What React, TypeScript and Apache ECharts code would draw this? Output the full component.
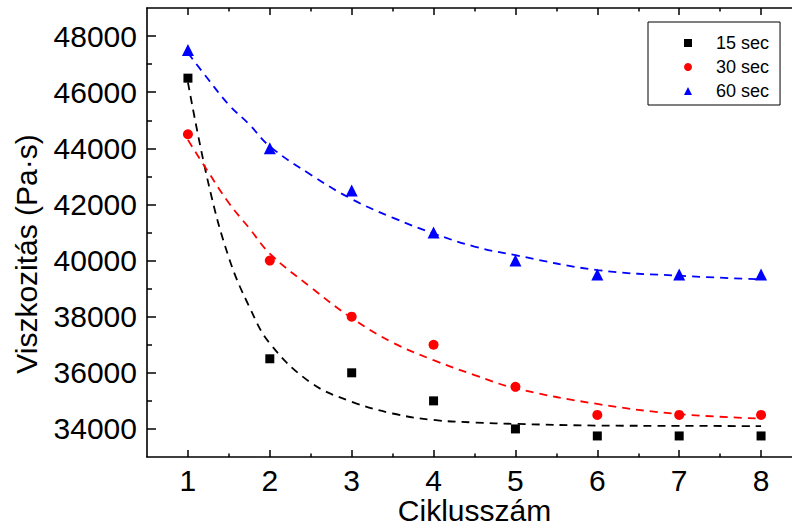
import React, { useEffect, useRef } from "react";
import * as echarts from "echarts";

// measured points
const cycles = [1, 2, 3, 4, 5, 6, 7, 8];
const visc15 = [46500, 36500, 36000, 35000, 34000, 33750, 33750, 33750];
const visc30 = [44500, 40000, 38000, 37000, 35500, 34500, 34500, 34500];
const visc60 = [47500, 44000, 42500, 41000, 40000, 39500, 39500, 39500];

// fitted curves
const fitX = [1, 1.25, 1.5, 1.75, 2, 2.5, 3, 3.5, 4, 4.5, 5, 6, 7, 8];
const fit15 = [46350, 42750, 40100, 38350, 37050, 35650, 34970, 34550, 34320, 34230, 34180, 34120, 34110, 34100];
const fit30 = [44300, 43150, 42050, 41150, 40250, 39050, 37950, 37080, 36450, 35920, 35450, 34890, 34530, 34370];
const fit60 = [47400, 46450, 45550, 44850, 44070, 43060, 42190, 41530, 40965, 40500, 40190, 39660, 39460, 39330];

const seriesNames = ["15 sec", "30 sec", "60 sec"];
const xMajorTicks = [1, 2, 3, 4, 5, 6, 7, 8];
const xMinorTicks = [1.5, 2.5, 3.5, 4.5, 5.5, 6.5, 7.5];
const yMajorTicks = [34000, 36000, 38000, 40000, 42000, 44000, 46000, 48000];
const yMinorTicks = [35000, 37000, 39000, 41000, 43000, 45000, 47000];

const FONT = "'Liberation Sans', Arial, Helvetica, sans-serif";

export default function App() {
  const ref = useRef<HTMLDivElement>(null);
  useEffect(() => {
    if (!ref.current) return;
    const chart = echarts.init(ref.current, undefined, { renderer: "svg" });
    const pair = (xs: number[], ys: number[]) => xs.map((x, i) => [x, ys[i]]);
    const axisLine = { show: true, onZero: false, lineStyle: { color: "#000", width: 1.6 } };
    const xBase = { type: "value", min: 0.5, max: 8.5, interval: 0.5, splitLine: { show: false } };
    const yBase = { type: "value", min: 33000, max: 49000, interval: 1000, splitLine: { show: false } };
    chart.setOption({
      animation: false,
      backgroundColor: "#fff",
      textStyle: { fontFamily: FONT },
      grid: { left: 147, top: 8, right: -10, bottom: 71, containLabel: false, outerBoundsMode: "none" },
      legend: {
        data: seriesNames,
        orient: "vertical",
        left: 648,
        top: 22,
        borderColor: "#000",
        borderWidth: 1,
        padding: [12, 11, 5, 36],
        itemWidth: 8,
        itemHeight: 8,
        itemGap: 6,
        itemStyle: { opacity: 1 },
        textStyle: { fontSize: 18, color: "#000", fontFamily: FONT, lineHeight: 18, padding: [0, 0, 0, 19] },
      },
      xAxis: [
        {
          ...xBase,
          position: "bottom",
          axisLine,
          axisTick: { show: true, inside: true, length: 7, customValues: xMajorTicks, lineStyle: { color: "#000", width: 1.5 } },
          axisLabel: { show: true, customValues: xMajorTicks, fontSize: 30, color: "#000", margin: 8, fontFamily: FONT, formatter: (v: number) => String(v) },
          name: "Ciklusszám",
          nameLocation: "middle",
          nameGap: 38,
          nameMoveOverlap: false,
          nameTextStyle: { fontSize: 30, color: "#000", fontFamily: FONT },
        },
        {
          ...xBase,
          position: "bottom",
          axisLine: { show: false },
          axisTick: { show: true, inside: true, length: 3.5, customValues: xMinorTicks, lineStyle: { color: "#000", width: 1.5 } },
          axisLabel: { show: false },
        },
        {
          ...xBase,
          position: "top",
          axisLine,
          axisTick: { show: true, inside: true, length: 7, customValues: xMajorTicks, lineStyle: { color: "#000", width: 1.5 } },
          axisLabel: { show: false },
        },
        {
          ...xBase,
          position: "top",
          axisLine: { show: false },
          axisTick: { show: true, inside: true, length: 3.5, customValues: xMinorTicks, lineStyle: { color: "#000", width: 1.5 } },
          axisLabel: { show: false },
        },
      ],
      yAxis: [
        {
          ...yBase,
          position: "left",
          axisLine,
          axisTick: { show: true, inside: true, length: 9, customValues: yMajorTicks, lineStyle: { color: "#000", width: 1.5 } },
          axisLabel: { show: true, customValues: yMajorTicks, fontSize: 30, color: "#000", margin: 10, fontFamily: FONT, formatter: (v: number) => String(v) },
        },
        {
          ...yBase,
          position: "left",
          axisLine: { show: false },
          axisTick: { show: true, inside: true, length: 5, customValues: yMinorTicks, lineStyle: { color: "#000", width: 1.5 } },
          axisLabel: { show: false },
        },
      ],
      graphic: [
        {
          type: "text",
          x: 26,
          y: 254,
          rotation: Math.PI / 2,
          style: {
            text: "Viszkozitás (Pa·s)",
            fontSize: 30,
            fontFamily: FONT,
            fill: "#000",
            textAlign: "center",
            textVerticalAlign: "middle",
          },
        },
      ],
      series: [
        {
          name: "fit15",
          type: "line",
          data: pair(fitX, fit15),
          smooth: 0.4,
          showSymbol: false,
          silent: true,
          z: 1,
          lineStyle: { color: "#000", width: 1.8, type: [8, 6] },
        },
        {
          name: "fit30",
          type: "line",
          data: pair(fitX, fit30),
          smooth: 0.4,
          showSymbol: false,
          silent: true,
          z: 1,
          lineStyle: { color: "#ff0000", width: 1.8, type: [8, 6] },
        },
        {
          name: "fit60",
          type: "line",
          data: pair(fitX, fit60),
          smooth: 0.4,
          showSymbol: false,
          silent: true,
          z: 1,
          lineStyle: { color: "#0000ff", width: 1.8, type: [8, 6] },
        },
        {
          name: seriesNames[0],
          type: "scatter",
          data: pair(cycles, visc15),
          symbol: "rect",
          symbolSize: 9,
          itemStyle: { color: "#000", opacity: 1 },
          z: 3,
        },
        {
          name: seriesNames[1],
          type: "scatter",
          data: pair(cycles, visc30),
          symbol: "circle",
          symbolSize: 10,
          itemStyle: { color: "#ff0000", opacity: 1 },
          z: 3,
        },
        {
          name: seriesNames[2],
          type: "scatter",
          data: pair(cycles, visc60),
          symbol: "triangle",
          symbolSize: 12,
          itemStyle: { color: "#0000ff", opacity: 1 },
          z: 3,
        },
      ],
    } as any);
    return () => chart.dispose();
  }, []);
  return (
    <div
      ref={ref}
      style={{ position: "absolute", left: 0, top: 0, width: 792, height: 528, overflow: "hidden" }}
    />
  );
}
